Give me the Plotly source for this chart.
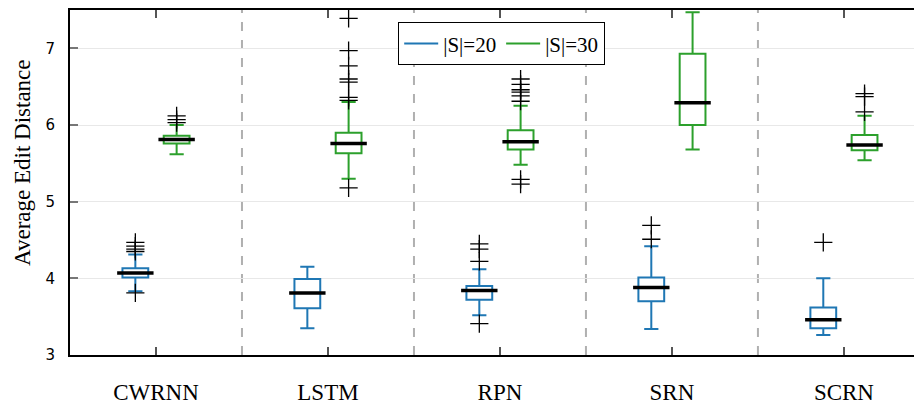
import plotly.graph_objects as go

categories = ["CWRNN", "LSTM", "RPN", "SRN", "SCRN"]
series_names = ["|S|=20", "|S|=30"]

# |S|=20 statistics
s20_lower = [3.83, 3.35, 3.52, 3.34, 3.26]
s20_q1 = [4.01, 3.61, 3.72, 3.70, 3.35]
s20_median = [4.07, 3.81, 3.84, 3.88, 3.46]
s20_q3 = [4.13, 3.99, 3.90, 4.01, 3.62]
s20_upper = [4.31, 4.15, 4.12, 4.42, 4.00]
s20_outliers = [
    [4.47, 4.42, 4.38, 4.35, 3.81],
    [],
    [4.45, 4.38, 4.22, 3.41],
    [4.69, 4.51],
    [4.47],
]

# |S|=30 statistics
s30_lower = [5.62, 5.30, 5.48, 5.68, 5.54]
s30_q1 = [5.76, 5.63, 5.68, 6.00, 5.67]
s30_median = [5.81, 5.76, 5.78, 6.29, 5.74]
s30_q3 = [5.86, 5.90, 5.93, 6.93, 5.87]
s30_upper = [6.00, 6.30, 6.25, 7.47, 6.12]
s30_outliers = [
    [6.12, 6.07, 6.03],
    [7.39, 6.97, 6.77, 6.60, 6.56, 6.36, 6.32, 5.18],
    [6.60, 6.53, 6.46, 6.43, 6.38, 6.31, 5.29, 5.23],
    [],
    [6.41, 6.37, 6.17],
]

y_title = "Average Edit Distance"
y_ticks = [3, 4, 5, 6, 7]

colors = ["#1f77b4", "#2ca02c"]
offsets = [-0.12, 0.12]
box_w = 0.15
serif = "Liberation Serif"

series = [
    (s20_lower, s20_q1, s20_median, s20_q3, s20_upper, s20_outliers),
    (s30_lower, s30_q1, s30_median, s30_q3, s30_upper, s30_outliers),
]

fig = go.Figure()
idx = list(range(len(categories)))

for si, (lo, q1, med, q3, up, outs) in enumerate(series):
    xs = [i + offsets[si] for i in idx]
    fig.add_trace(go.Box(
        x=xs, q1=q1, median=med, q3=q3, lowerfence=lo, upperfence=up,
        width=box_w, whiskerwidth=0.55, fillcolor="white",
        line=dict(color=colors[si], width=2), boxpoints=False,
        showlegend=False, hoverinfo="skip",
    ))
    # median lines in black
    fig.add_trace(go.Scatter(
        x=xs, y=med, mode="markers", showlegend=False, hoverinfo="skip",
        marker=dict(symbol="line-ew-open", size=26, color="black",
                    line=dict(color="black", width=3.5)),
    ))
    # outliers
    ox, oy = [], []
    for i, vals in enumerate(outs):
        for v in vals:
            ox.append(i + offsets[si])
            oy.append(v)
    fig.add_trace(go.Scatter(
        x=ox, y=oy, mode="markers", showlegend=False, hoverinfo="skip",
        marker=dict(symbol="cross-thin-open", size=13, color="black",
                    line=dict(color="black", width=1.3)),
    ))

for si, name in enumerate(series_names):
    fig.add_trace(go.Scatter(
        x=[None], y=[None], mode="lines", name=name,
        line=dict(color=colors[si], width=2),
    ))

for i in range(len(categories) - 1):
    fig.add_shape(type="line", xref="x", yref="paper", x0=i + 0.5, x1=i + 0.5,
                  y0=0, y1=1, line=dict(color="#b0b0b0", width=2, dash="dash"),
                  layer="below")

fig.add_annotation(text=y_title, xref="paper", yref="paper", x=-0.054, y=0.557,
                   xanchor="center", yanchor="middle", textangle=-90, showarrow=False,
                   font=dict(family=serif, size=23, color="black"))

fig.update_layout(
    width=930, height=405,
    margin=dict(l=62, r=0, t=2, b=58),
    plot_bgcolor="white", paper_bgcolor="white",
    legend=dict(orientation="h", x=0.497, xanchor="center", y=0.965, yanchor="top",
                bordercolor="black", borderwidth=1.3, bgcolor="white",
                font=dict(family=serif, size=21, color="black"),
                itemwidth=34, tracegroupgap=0),
    xaxis=dict(
        range=[-0.5, 4.547], tickvals=idx, ticktext=categories,
        showline=True, linecolor="black", linewidth=2, mirror="allticks",
        ticks="inside", ticklen=8, tickcolor="#555", tickwidth=1.5,
        showgrid=False, zeroline=False, automargin=False,
        tickfont=dict(family=serif, size=23, color="black"),
        ticklabelstandoff=15,
    ),
    yaxis=dict(
        range=[3, 7.5], tickvals=y_ticks, automargin=False,
        showline=True, linecolor="black", linewidth=2,
        ticks="inside", ticklen=8, tickcolor="#777", tickwidth=1.5,
        showgrid=True, gridcolor="#e8e8e8", gridwidth=1, zeroline=False,
        tickfont=dict(family="DejaVu Sans", size=15, color="black"),
        ticklabelstandoff=10,
    ),
)

fig.write_html("out.html")
